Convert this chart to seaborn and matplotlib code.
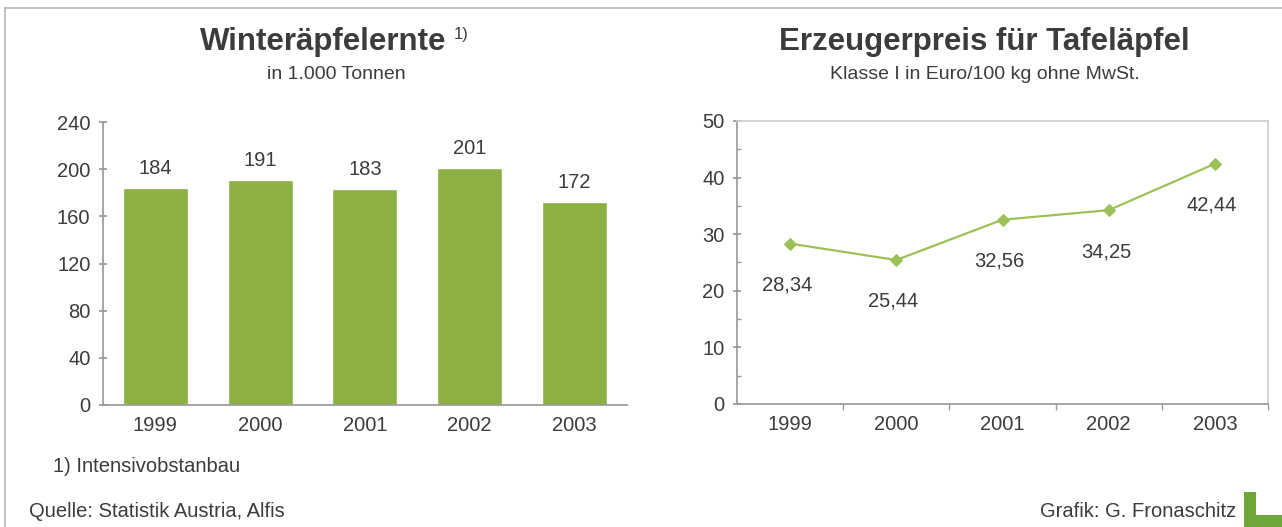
import matplotlib
matplotlib.use("Agg")
import matplotlib.pyplot as plt
from matplotlib.patches import Polygon
from matplotlib.ticker import MultipleLocator
import seaborn as sns
import pandas as pd

# ---------------- Data ----------------
years = ["1999", "2000", "2001", "2002", "2003"]
harvest = [184, 191, 183, 201, 172]          # Winteräpfelernte, 1.000 t
price = [28.34, 25.44, 32.56, 34.25, 42.44]  # Euro/100 kg

bar_green = "#8cb043"
line_green = "#9cc257"
text_col = "#3c3c3c"
axis_col = "#9a9a9a"
fs = 14.5

sns.set_theme(style="white")
plt.rcParams["font.family"] = ["Liberation Sans", "DejaVu Sans"]

fig = plt.figure(figsize=(12.82, 5.27), dpi=100)
fig.patch.set_facecolor("white")

# ---------------- Left: bar chart ----------------
ax1 = fig.add_axes([0.0803, 0.2315, 0.4087, 0.537])
df1 = pd.DataFrame({"year": years, "harvest": harvest})
sns.barplot(data=df1, x="year", y="harvest", color=bar_green, width=0.62,
            saturation=1, ax=ax1)
ax1.set_ylim(0, 240)
ax1.set_xlim(-0.5, 4.5)
ax1.set_yticks(range(0, 241, 40))
ax1.set_xlabel("")
ax1.set_ylabel("")
for s in ["top", "right"]:
    ax1.spines[s].set_visible(False)
ax1.spines["left"].set_color(axis_col)
ax1.spines["bottom"].set_color(axis_col)
ax1.tick_params(axis="y", direction="inout", length=6, color=axis_col,
                labelsize=fs, labelcolor=text_col, pad=6, left=True)
ax1.tick_params(axis="x", length=0, labelsize=fs, labelcolor=text_col, pad=8)
for i, v in enumerate(harvest):
    ax1.annotate(str(v), (i, v), xytext=(0, 7), textcoords="offset points",
                 ha="center", va="bottom", fontsize=fs, color=text_col)

# ---------------- Right: line chart ----------------
ax2 = fig.add_axes([0.5749, 0.2334, 0.4142, 0.537])
df2 = pd.DataFrame({"pos": range(len(years)), "price": price})
sns.lineplot(data=df2, x="pos", y="price", color=line_green, marker="D",
             markersize=6, markeredgecolor=line_green, linewidth=1.6, ax=ax2)
ax2.set_ylim(0, 50)
ax2.set_xlim(-0.5, 4.5)
ax2.set_xlabel("")
ax2.set_ylabel("")
ax2.yaxis.set_major_locator(MultipleLocator(10))
ax2.yaxis.set_minor_locator(MultipleLocator(5))
ax2.set_xticks(range(len(years)))
ax2.set_xticklabels(years)
ax2.set_xticks([0.5, 1.5, 2.5, 3.5, 4.5], minor=True)
for s in ["top", "right"]:
    ax2.spines[s].set_color("#d0d0d0")
ax2.spines["left"].set_color(axis_col)
ax2.spines["bottom"].set_color(axis_col)
ax2.tick_params(axis="y", which="major", direction="inout", length=6,
                color=axis_col, labelsize=fs, labelcolor=text_col, pad=6, left=True)
ax2.tick_params(axis="y", which="minor", direction="in", length=3,
                color=axis_col, left=True)
ax2.tick_params(axis="x", which="major", length=0, labelsize=fs,
                labelcolor=text_col, pad=8)
ax2.tick_params(axis="x", which="minor", direction="out", length=4,
                color=axis_col, bottom=True)
for i, v in enumerate(price):
    ax2.annotate(f"{v:.2f}".replace(".", ","), (i, v), xytext=(-2, -23),
                 textcoords="offset points", ha="center", va="top",
                 fontsize=fs, color=text_col)

# ---------------- Titles and notes ----------------
fig.text(0.252, 0.920, "Winteräpfelernte", ha="center", va="center",
         fontsize=22.5, fontweight="bold", color=text_col)
fig.text(0.354, 0.935, "1)", ha="left", va="center", fontsize=12, color=text_col)
fig.text(0.262, 0.858, "in 1.000 Tonnen", ha="center", va="center",
         fontsize=14, color=text_col)
fig.text(0.768, 0.920, "Erzeugerpreis für Tafeläpfel", ha="center", va="center",
         fontsize=22.5, fontweight="bold", color=text_col)
fig.text(0.768, 0.858, "Klasse I in Euro/100 kg ohne MwSt.", ha="center",
         va="center", fontsize=14, color=text_col)
fig.text(0.041, 0.114, "1) Intensivobstanbau", ha="left", va="center",
         fontsize=fs, color=text_col)
fig.text(0.023, 0.030, "Quelle: Statistik Austria, Alfis", ha="left",
         va="center", fontsize=fs, color=text_col)
fig.text(0.964, 0.030, "Grafik: G. Fronaschitz", ha="right", va="center",
         fontsize=fs, color=text_col)

# frame and logo
fig.add_artist(plt.Line2D([0.004, 1.0], [0.985, 0.985], color="#b5b5b5", lw=1.2))
fig.add_artist(plt.Line2D([0.004, 0.004], [0.0, 0.985], color="#b5b5b5", lw=1.2))
fig.add_artist(Polygon([(0.9705, 0.0), (1.0, 0.0), (1.0, 0.023), (0.980, 0.023),
                        (0.980, 0.066), (0.9705, 0.066)], closed=True,
                       transform=fig.transFigure, facecolor="#6ea63a",
                       edgecolor="none"))

fig.savefig("out.png", dpi=100)
